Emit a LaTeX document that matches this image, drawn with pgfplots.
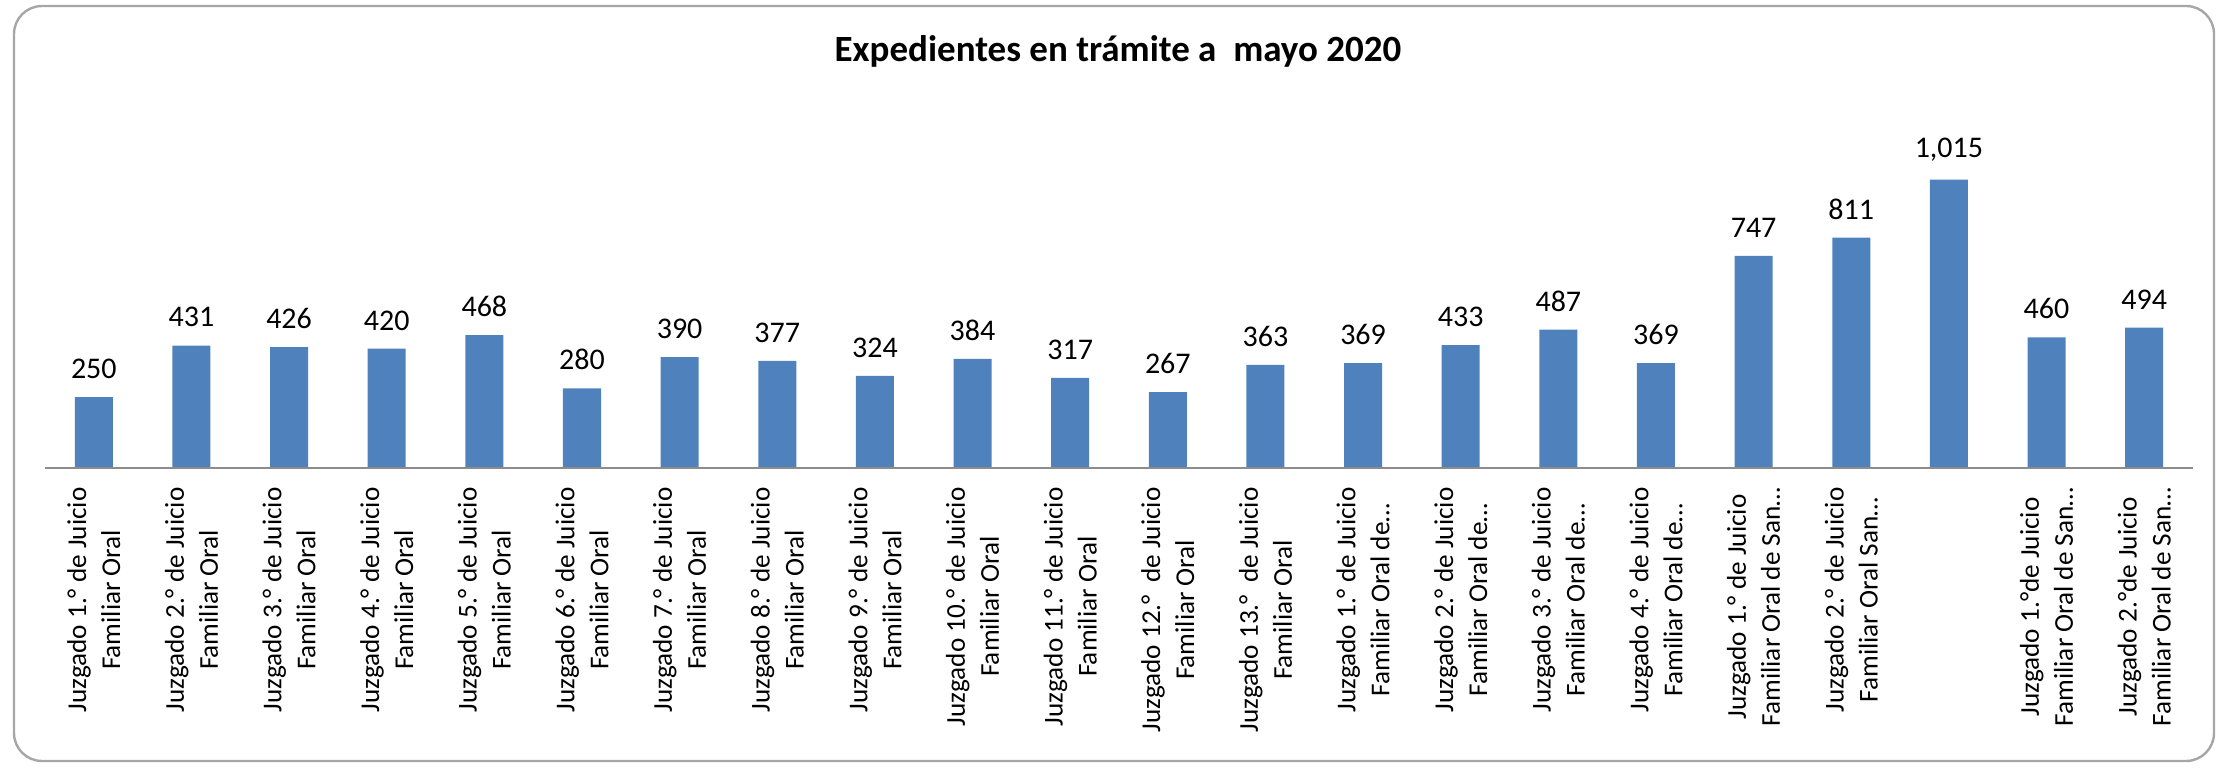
\documentclass[border=0pt]{standalone}
\usepackage{pgfplots}
\pgfplotsset{compat=1.18}
\usepackage{fontspec}
\setmainfont{Carlito}
\definecolor{barblue}{HTML}{4F81BD}
\definecolor{axisgray}{HTML}{8C8C8C}
\definecolor{framegray}{HTML}{A6A6A6}
\begin{document}
\begin{tikzpicture}
\path[use as bounding box] (0,0) rectangle (1113pt,383.5pt);
\draw[framegray, line width=1.2pt, rounded corners=14pt] (7pt,3pt) rectangle (1107pt,380.5pt);
\node[font=\fontsize{18.5}{22}\selectfont\bfseries] at (559pt,358pt) {Expedientes en trámite a~~mayo 2020};
\begin{axis}[
  at={(22.5pt,149.5pt)}, anchor=south west,
  scale only axis, width=1074pt, height=170.4pt,
  xmin=-0.5, xmax=21.5, ymin=0, ymax=1200,
  axis line style={draw=none},
  ytick=\empty,
  xtick={0,...,21},
  major tick length=0pt,
  xticklabels={
    {Juzgado 1.° de Juicio\\Familiar Oral},
    {Juzgado 2.° de Juicio\\Familiar Oral},
    {Juzgado 3.° de Juicio\\Familiar Oral},
    {Juzgado 4.° de Juicio\\Familiar Oral},
    {Juzgado 5.° de Juicio\\Familiar Oral},
    {Juzgado 6.° de Juicio\\Familiar Oral},
    {Juzgado 7.° de Juicio\\Familiar Oral},
    {Juzgado 8.° de Juicio\\Familiar Oral},
    {Juzgado 9.° de Juicio\\Familiar Oral},
    {Juzgado 10.° de Juicio\\Familiar Oral},
    {Juzgado 11.° de Juicio\\Familiar Oral},
    {Juzgado 12.°~~de Juicio\\Familiar Oral},
    {Juzgado 13.°~~de Juicio\\Familiar Oral},
    {Juzgado 1.° de Juicio\\Familiar Oral de…},
    {Juzgado 2.° de Juicio\\Familiar Oral de…},
    {Juzgado 3.° de Juicio\\Familiar Oral de…},
    {Juzgado 4.° de Juicio\\Familiar Oral de…},
    {Juzgado 1.° de Juicio\\Familiar Oral de San…},
    {Juzgado 2.° de Juicio\\Familiar Oral San…},
    {},
    {Juzgado 1.°de Juicio\\Familiar Oral de San…},
    {Juzgado 2.°de Juicio\\Familiar Oral de San…}
  },
  xticklabel style={rotate=90, anchor=east, align=center, font=\fontsize{13.6}{17}\selectfont, inner sep=0pt},
  xticklabel shift=9.5pt,
  clip=false,
  ybar, bar width=19pt,
  nodes near coords={\pgfmathprintnumber[fixed,precision=0,1000 sep={,},assume math mode=true]{\pgfplotspointmeta}},
  every node near coord/.append style={font=\fontsize{15}{18}\selectfont, inner sep=0pt, anchor=south, yshift=9pt, text=black},
]
\addplot[fill=barblue, draw=none] coordinates {
(0,250) (1,431) (2,426) (3,420) (4,468) (5,280) (6,390) (7,377) (8,324) (9,384) (10,317)
(11,267) (12,363) (13,369) (14,433) (15,487) (16,369) (17,747) (18,811) (19,1015) (20,460) (21,494)
};
\draw[axisgray, line width=1.2pt] (axis cs:-0.5,0) -- (axis cs:21.5,0);
\end{axis}
\end{tikzpicture}
\end{document}
